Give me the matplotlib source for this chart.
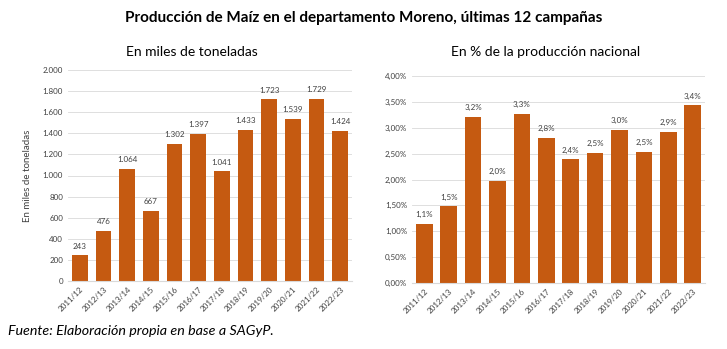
import matplotlib.pyplot as plt
import matplotlib.ticker as mticker

plt.rcParams['font.family'] = ['Lato', 'DejaVu Sans']

campanias = ['2011/12', '2012/13', '2013/14', '2014/15', '2015/16', '2016/17',
             '2017/18', '2018/19', '2019/20', '2020/21', '2021/22', '2022/23']
miles_tn = [243, 476, 1064, 667, 1302, 1397, 1041, 1433, 1723, 1539, 1729, 1424]
pct_nacional = [1.14, 1.48, 3.21, 1.97, 3.27, 2.81, 2.39, 2.52, 2.96, 2.54, 2.92, 3.43]

color = '#C55A11'
grid_c = '#D9D9D9'
txt_c = '#404040'

fig = plt.figure(figsize=(7.27, 3.49), dpi=100)
ax1 = fig.add_axes([68 / 727, 1 - 281 / 349, 284 / 727, 211 / 349])
ax2 = fig.add_axes([412 / 727, 1 - 283 / 349, 293 / 727, 207 / 349])


def fmt_miles(v):
    return f'{v:,.0f}'.replace(',', '.')


def estilo(ax):
    for s in ['top', 'right', 'left']:
        ax.spines[s].set_visible(False)
    ax.spines['bottom'].set_color(grid_c)
    ax.grid(axis='y', color=grid_c, linewidth=0.6)
    ax.set_axisbelow(True)
    ax.tick_params(axis='both', length=0, labelsize=5.8, colors=txt_c)
    ax.set_xlim(-0.5, len(campanias) - 0.5)
    plt.setp(ax.get_xticklabels(), rotation=45, ha='right', rotation_mode='anchor')


# izquierda: miles de toneladas
bars = ax1.bar(campanias, miles_tn, width=0.65, color=color)
ax1.set_ylim(0, 2000)
ax1.yaxis.set_major_locator(mticker.MultipleLocator(200))
ax1.yaxis.set_major_formatter(mticker.FuncFormatter(lambda v, p: fmt_miles(v)))
estilo(ax1)
ax1.set_ylabel('En miles de toneladas', fontsize=7, color=txt_c, labelpad=8)
for b, v in zip(bars, miles_tn):
    ax1.annotate(fmt_miles(v), (b.get_x() + b.get_width() / 2, v), xytext=(0, 4),
                 textcoords='offset points', ha='center', va='bottom', fontsize=5.8, color=txt_c)

# derecha: % de la produccion nacional
bars = ax2.bar(campanias, pct_nacional, width=0.68, color=color)
ax2.set_ylim(0, 4)
ax2.yaxis.set_major_locator(mticker.MultipleLocator(0.5))
ax2.yaxis.set_major_formatter(mticker.FuncFormatter(lambda v, p: f'{v:.2f}%'.replace('.', ',')))
estilo(ax2)
for b, v in zip(bars, pct_nacional):
    ax2.annotate(f'{v:.1f}%'.replace('.', ','), (b.get_x() + b.get_width() / 2, v), xytext=(0, 4),
                 textcoords='offset points', ha='center', va='bottom', fontsize=5.8, color=txt_c)

fig.text(0.5, 1 - 18 / 349, 'Producción de Maíz en el departamento Moreno, últimas 12 campañas',
         ha='center', va='center', fontsize=11, fontweight='bold', color='black')
fig.text(192 / 727, 1 - 52 / 349, 'En miles de toneladas', ha='center', va='center',
         fontsize=10, color='black')
fig.text(546 / 727, 1 - 52 / 349, 'En % de la producción nacional', ha='center', va='center',
         fontsize=10, color='black')
fig.text(8 / 727, 1 - 331 / 349, 'Fuente: Elaboración propia en base a SAGyP.', ha='left',
         va='center', fontsize=10.3, style='italic', color='black')

fig.savefig('out.png', dpi=100)
